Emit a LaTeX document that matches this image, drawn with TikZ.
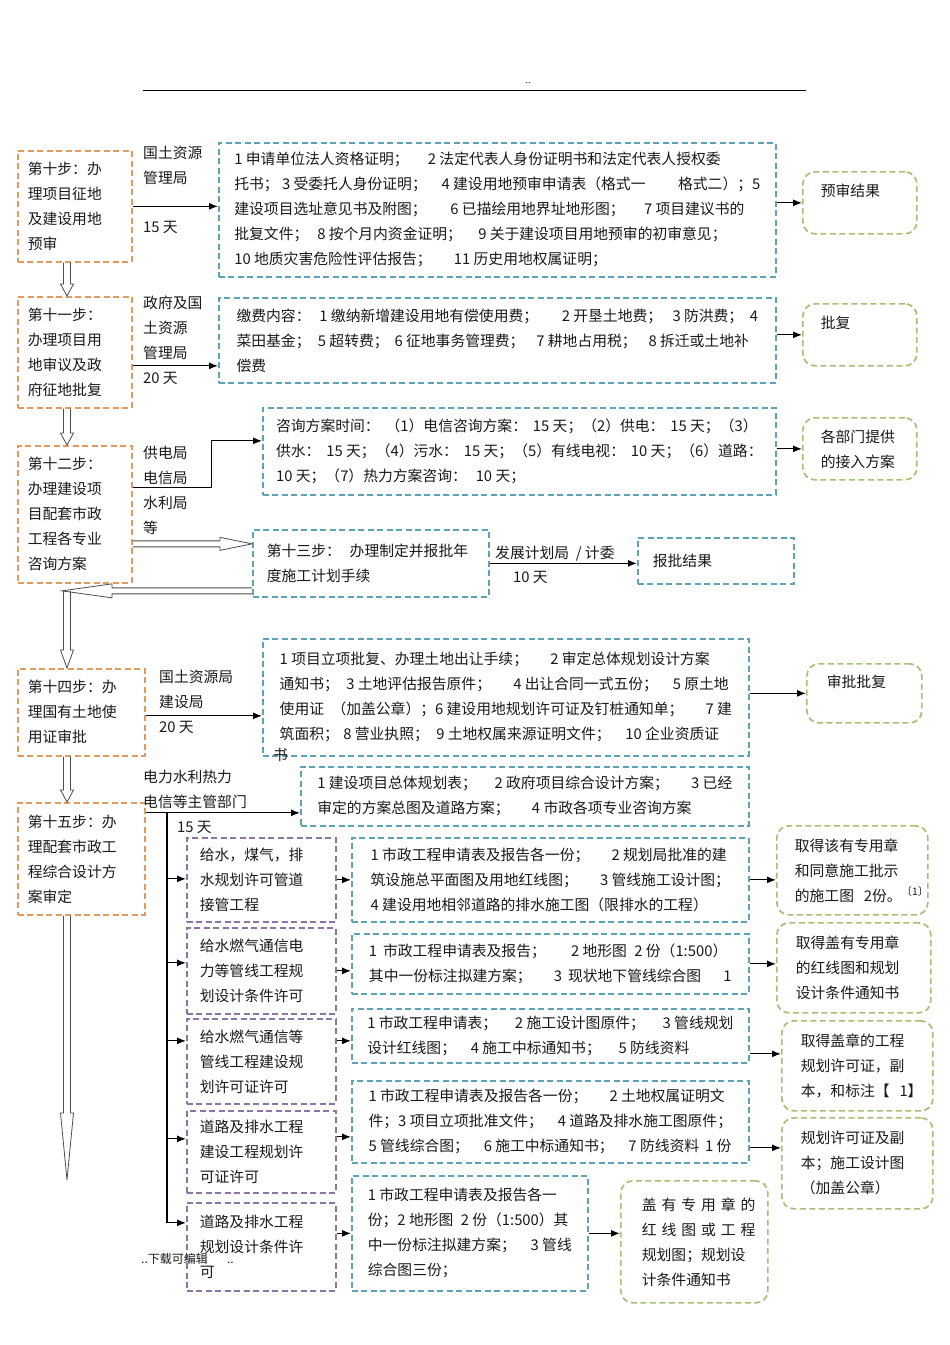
\documentclass[tikz,border=0pt]{standalone}
\usepackage{fontspec}
\newfontfamily\cjk{Noto Sans CJK SC}
\usetikzlibrary{arrows.meta,calc}
\definecolor{stepc}{HTML}{E39A5E}
\definecolor{docc}{HTML}{5DA2B9}
\definecolor{resc}{HTML}{A8BF78}
\definecolor{itemc}{HTML}{8B74A6}
\newcommand{\hollowarrow}[5]{%
  \coordinate (hb) at ($(#2)!#3!(#1)$);
  \draw[hollow] ($(#1)!#4!90:(#2)$) -- ($(hb)!#4!90:(#2)$) -- ($(hb)!#5!90:(#2)$) -- (#2)
    -- ($(hb)!#5!-90:(#2)$) -- ($(hb)!#4!-90:(#2)$) -- ($(#1)!#4!-90:(#2)$);
}
\begin{document}
\begin{tikzpicture}[x=1pt,y=-1pt,
    every node/.style={font=\cjk\fontsize{14.8}{25}\selectfont,text=black!90},
    stepbox/.style={draw=stepc,line width=1.7pt,dash pattern=on 6pt off 3.5pt,anchor=north west,align=left,inner xsep=10pt,inner ysep=0pt},
    docbox/.style={draw=docc,line width=1.7pt,dash pattern=on 6pt off 3.5pt,anchor=north west,align=left,inner xsep=12pt,inner ysep=0pt},
    itembox/.style={draw=itemc,line width=1.7pt,dash pattern=on 6pt off 3.5pt,anchor=north west,align=left,inner xsep=13pt,inner ysep=0pt,text width=123,minimum width=149},
    resbox/.style={draw=resc,line width=1.7pt,dash pattern=on 6pt off 3.5pt,rounded corners=12pt,anchor=north west,align=left,inner xsep=18pt,inner ysep=0pt},
    lbl/.style={anchor=north west,align=left,inner sep=0pt},
    arr/.style={-{Latex[length=9pt,width=7pt]},line width=1.1pt},
    hollow/.style={draw=black!70,line width=0.8pt}
]
\fill[white] (0,0) rectangle (950,1345);
\useasboundingbox (0,0) rectangle (950,1345);

\draw[line width=0.8pt] (143,90) -- (806,90);
\node[font=\cjk\fontsize{9}{10}\selectfont,inner sep=0pt] (hdr) at (528,83) {..};

\node[stepbox,text width=94,minimum height=111] (s10) at (17,150) {第十步：办\\理项目征地\\及建设用地\\预审};
\node[stepbox,text width=94,minimum height=111] (s11) at (17,296) {第十一步：\\办理项目用\\地审议及政\\府征地批复};
\node[stepbox,text width=94,minimum height=137] (s12) at (17,445) {第十二步：\\办理建设项\\目配套市政\\工程各专业\\咨询方案};
\node[docbox,text width=208,inner xsep=14pt,minimum height=67] (s13) at (252,529) {第十三步：\hspace{0.6em}办理制定并报批年\\度施工计划手续};
\node[stepbox,text width=107,minimum height=87] (s14) at (17,668) {第十四步：办\\理国有土地使\\用证审批};
\node[stepbox,text width=107,minimum height=112] (s15) at (17,802) {第十五步：办\\理配套市政工\\程综合设计方\\案审定};

\node[lbl] (t1) at (143,146) {国土资源\\管理局};
\node[lbl] (d1) at (143,221) {15 天};
\node[lbl] (t2) at (143,296) {政府及国\\土资源\\管理局\\20 天};
\node[lbl] (t3) at (143,446) {供电局\\电信局\\水利局\\等};
\node[lbl] (t4) at (495,546) {发展计划局~~/~计委};
\node[lbl] (d4) at (513,571) {10 天};
\node[lbl] (t5) at (159,670) {国土资源局\\建设局\\20 天};
\node[lbl] (t6) at (143,770) {电力水利热力\\电信等主管部门};
\node[lbl] (d6) at (177,821) {15 天};

\node[docbox,minimum width=557,minimum height=134] (b1) at (218,142) {1 申请单位法人资格证明；\hspace{1.3em}2 法定代表人身份证明书和法定代表人授权委\\
托书； 3 受委托人身份证明；\hspace{1em}4 建设用地预审申请表（格式一\hspace{2.2em}格式二）；5\\
建设项目选址意见书及附图；\hspace{1.6em}6 已描绘用地界址地形图；\hspace{1.3em}7 项目建议书的\\
批复文件；\hspace{0.6em}8 按个月内资金证明；\hspace{1.1em}9 关于建设项目用地预审的初审意见；\\
10 地质灾害危险性评估报告；\hspace{1.5em}11 历史用地权属证明；};
\node[docbox,minimum width=557,minimum height=85] (b2) at (218,297) {缴费内容：\hspace{0.6em}1 缴纳新增建设用地有偿使用费；\hspace{1.6em}2 开垦土地费；\hspace{0.7em}3 防洪费；\hspace{0.45em}4\\
菜田基金；\hspace{0.5em}5 超转费；\hspace{0.4em}6 征地事务管理费；\hspace{0.8em}7 耕地占用税；\hspace{0.8em}8 拆迁或土地补\\
偿费};
\node[docbox,minimum width=513,minimum height=87] (b3) at (262,407) {咨询方案时间：\hspace{0.4em}（1）电信咨询方案：\hspace{0.4em}15 天；（2）供电：\hspace{0.4em}15 天；（3）\\
供水：\hspace{0.4em}15 天；（4）污水：\hspace{0.4em}15 天；（5）有线电视：\hspace{0.4em}10 天；（6）道路：\\
10 天；（7）热力方案咨询：\hspace{0.6em}10 天；};
\node[docbox,minimum width=156,minimum height=46,text width=126,inner xsep=15pt] (bq) at (637,537) {报批结果};
\node[docbox,minimum width=486,minimum height=117] (b4) at (262,638) {1 项目立项批复、办理土地出让手续；\hspace{1.5em}2 审定总体规划设计方案\\
通知书；\hspace{0.5em}3 土地评估报告原件；\hspace{1.5em}4 出让合同一式五份；\hspace{1em}5 原土地\\
使用证\hspace{0.5em}（加盖公章）；6 建设用地规划许可证及钉桩通知单；\hspace{1.5em}7 建\\
筑面积；\hspace{0.3em}8 营业执照；\hspace{0.5em}9 土地权属来源证明文件；\hspace{1em}10 企业资质证};
\node[lbl] (b4x) at (273,748) {书};
\node[docbox,minimum width=448,minimum height=59] (b5) at (300,766) {1 建设项目总体规划表；\hspace{1.2em}2 政府项目综合设计方案；\hspace{1.5em}3 已经\\
审定的方案总图及道路方案；\hspace{1.5em}4 市政各项专业咨询方案};

\node[itembox,minimum height=84] (p1) at (186,837) {给水，煤气，排\\水规划许可管道\\接管工程};
\node[itembox,minimum height=86] (p2) at (186,927) {给水燃气通信电\\力等管线工程规\\划设计条件许可};
\node[itembox,minimum height=85] (p3) at (186,1018) {给水燃气通信等\\管线工程建设规\\划许可证许可};
\node[itembox,minimum height=82] (p4) at (186,1110) {道路及排水工程\\建设工程规划许\\可证许可};
\node[itembox,minimum height=88] (p5) at (186,1202) {道路及排水工程\\规划设计条件许\\可};

\node[docbox,minimum width=397,minimum height=84] (b6) at (351,837) {1 市政工程申请表及报告各一份；\hspace{1.5em}2 规划局批准的建\\
筑设施总平面图及用地红线图；\hspace{1.5em}3 管线施工设计图；\\
4 建设用地相邻道路的排水施工图（限排水的工程）};
\node[docbox,minimum width=397,minimum height=60] (b7) at (351,933) {1\hspace{0.4em}市政工程申请表及报告；\hspace{1.7em}2 地形图\hspace{0.5em}2 份（1:500）\\
其中一份标注拟建方案；\hspace{1.5em}3\hspace{0.4em}现状地下管线综合图\hspace{1.5em}1};
\node[docbox,minimum width=397,minimum height=54] (b8) at (351,1008) {1 市政工程申请表；\hspace{1.2em}2 施工设计图原件；\hspace{1.2em}3 管线规划\\
设计红线图；\hspace{1em}4 施工中标通知书；\hspace{1.2em}5 防线资料};
\node[docbox,minimum width=397,minimum height=82] (b9) at (351,1080) {1 市政工程申请表及报告各一份；\hspace{1.5em}2 土地权属证明文\\
件；3 项目立项批准文件；\hspace{1em}4 道路及排水施工图原件；\\
5 管线综合图；\hspace{1em}6 施工中标通知书；\hspace{1em}7 防线资料\hspace{0.4em}1 份};
\node[docbox,minimum width=236,minimum height=115] (b10) at (351,1175) {1 市政工程申请表及报告各一\\
份；2 地形图\hspace{0.5em}2 份（1:500）其\\
中一份标注拟建方案；\hspace{1em}3 管线\\
综合图三份；};

\node[resbox,text width=78,minimum width=114,minimum height=62] (g1) at (802,171) {预审结果\\~};
\node[resbox,text width=78,minimum width=114,minimum height=62] (g2) at (802,303) {批复\\~};
\node[resbox,text width=78,minimum width=114,minimum height=62] (g3) at (802,417) {各部门提供\\的接入方案};
\node[resbox,text width=75,inner xsep=20pt,minimum width=115,minimum height=59] (g4) at (806,663) {审批批复\\~};
\node[resbox,text width=115,minimum width=151,minimum height=89] (g5) at (776,825) {取得该有专用章\\和同意施工批示\\的施工图~~2份。\textsuperscript{〔1〕}};
\node[resbox,text width=116,inner xsep=19pt,minimum width=154,minimum height=90] (g6) at (776,922) {取得盖有专用章\\的红线图和规划\\设计条件通知书};
\node[resbox,text width=113,inner xsep=19pt,minimum width=151,minimum height=90] (g7) at (781,1020) {取得盖章的工程\\规划许可证，副\\本，和标注【~~1】};
\node[resbox,text width=113,inner xsep=19pt,minimum width=151,minimum height=91] (g8) at (781,1117) {规划许可证及副\\本；施工设计图\\（加盖公章）};
\node[resbox,text width=105,inner xsep=21pt,minimum width=147,minimum height=122] (g9) at (620,1180) {\makebox[\linewidth][s]{盖 有 专 用 章 的}\\\makebox[\linewidth][s]{红 线 图 或 工 程}\\规划图；规划设\\计条件通知书};

\node[anchor=west,font=\cjk\fontsize{12}{14}\selectfont,inner sep=0pt] (foot) at (141,1259) {..下载可编辑\hspace{1.6em}..};

\coordinate (sp) at (67,0);
\coordinate (tx) at (167,0);

\draw[arr] (s10.east) -- (b1.west |- s10.east);
\draw[arr] (b1.east |- g1.west) -- (g1.west);
\coordinate (c2) at ([yshift=-13.5pt]s11.east);
\draw[arr] (c2) -- (b2.west |- c2);
\draw[arr] (b2.east |- g2.west) -- (g2.west);
\coordinate (c3) at ([yshift=26.5pt]s12.east);
\draw[arr] (c3) -- ++(79,0) |- ([yshift=10.5pt]b3.west);
\draw[arr] (b3.east |- g3.west) -- (g3.west);
\draw[arr] (s13.east) -- (bq.west |- s13.east);
\coordinate (c5) at ([yshift=-3.5pt]s14.east);
\draw[arr] (c5) -- (b4.west |- c5);
\draw[arr] (b4.east |- g4.west) -- (g4.west);
\coordinate (c6) at ([yshift=46pt]s15.east);
\draw[arr] (c6) -- (b5.west |- c6);
\coordinate (tb) at ([yshift=24pt]p5.west);
\draw[line width=1.1pt] (c6 -| tx) -- (tb -| tx);
\foreach \n/\dy in {p1/1,p2/8,p3/20.5,p4/13,p5/24} {
  \coordinate (e) at ([yshift=\dy pt]\n.west);
  \draw[arr] (e -| tx) -- (e);
}

\draw[arr] (p1.east) -- (b6.west |- p1.east);
\draw[arr] (p2.east) -- (b7.west |- p2.east);
\coordinate (e3) at ([yshift=-5pt]b8.west);
\draw[arr] (p3.east |- e3) -- (e3);
\coordinate (e4) at ([yshift=-15pt]b9.west);
\draw[arr] (p4.east |- e4) -- (e4);
\draw[arr] (p5.east |- b10.west) -- (b10.west);

\draw[arr] (b6.east) -- (g5.west |- b6.east);
\draw[arr] (b7.east) -- (g6.west |- b7.east);
\coordinate (e7) at ([yshift=12pt]g7.west);
\draw[arr] (b8.east |- e7) -- (e7);
\coordinate (e8) at ([yshift=15.5pt]g8.west);
\draw[arr] (b9.east |- e8) -- (e8);
\draw[arr] (b10.east) -- (g9.west |- b10.east);

\coordinate (h1a) at (s10.south -| sp);
\coordinate (h1b) at (s11.north -| sp);
\hollowarrow{h1a}{h1b}{12pt}{3.5pt}{6.5pt}
\coordinate (h2a) at (s11.south -| sp);
\coordinate (h2b) at (s12.north -| sp);
\hollowarrow{h2a}{h2b}{12pt}{3.5pt}{6.5pt}
\coordinate (h3a) at ([yshift=-29.5pt]s12.east);
\coordinate (h3b) at (s13.west |- h3a);
\hollowarrow{h3a}{h3b}{32pt}{3pt}{6.5pt}
\coordinate (h4a) at ([yshift=-27.5pt]s13.west);
\coordinate (h4b) at ([xshift=-5pt]h4a -| sp);
\hollowarrow{h4a}{h4b}{50pt}{3pt}{7pt}
\coordinate (h5a) at (h4a -| sp);
\coordinate (h5b) at (s14.north -| sp);
\hollowarrow{h5a}{h5b}{18pt}{3.5pt}{6.5pt}
\coordinate (h6a) at (s14.south -| sp);
\coordinate (h6b) at (s15.north -| sp);
\hollowarrow{h6a}{h6b}{12pt}{3.5pt}{6.5pt}
\coordinate (h7a) at (s15.south -| sp);
\coordinate (endp) at (67,1180);
\hollowarrow{h7a}{endp}{67pt}{3.5pt}{6.5pt}
\end{tikzpicture}
\end{document}
